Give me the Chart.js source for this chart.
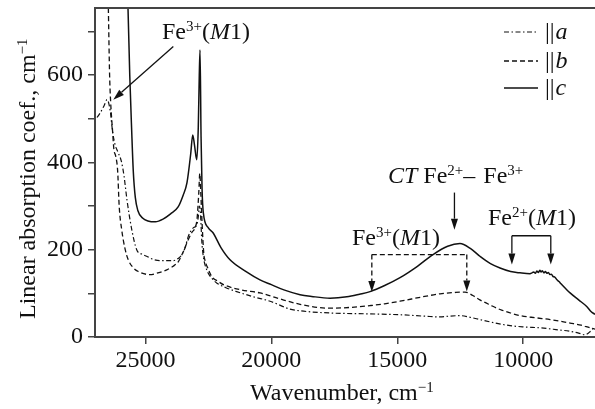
<!DOCTYPE html>
<html>
<head>
<meta charset="utf-8">
<script src="https://cdn.jsdelivr.net/npm/chart.js@4.4.1/dist/chart.umd.min.js"></script>
<style>
  html, body { margin: 0; padding: 0; background: #fff; }
  canvas { display: block; }
</style>
</head>
<body>
<canvas id="chart" width="595" height="409" style="width:595px;height:409px"></canvas>
<script>
// wavenumber (cm^-1) and absorption (cm^-1)
const wnA  = [26920,26800,26640,26520,26400,26300,26200,26100,25950,25850,25730,25540,25345,25150,24950,24700,24420,23890,23700,23560,23420,23300,23100,22960,22900,22850,22810,22760,22700,22565,22370,22170,21800,21375,20700,20050,19260,18860,17670,16080,14890,13700,13300,12900,12510,12100,11720,11100,10520,9930,9330,8700,8140,7800,7545,7350,7200];
const absA = [503,513,530,544,520,470,440,425,402,370,314,246,200,190,185,178,175,175,180,188,205,230,250,257,275,300,280,220,185,154,135,124,113,104,92,82,64,60,55,53,51,47,46,48,49,45,40,32,26,23,21,17,13,9,5,12,22];

const wnB  = [26520,26470,26420,26380,26300,26250,26180,26100,26040,25940,25800,25680,25500,25280,24820,24500,24150,23900,23690,23500,23300,23150,23030,22950,22880,22840,22800,22740,22680,22640,22500,22370,22100,21900,21200,20450,19700,18860,17670,16800,16080,15500,14890,14000,13300,12700,12310,12000,11720,11300,10920,10500,10130,9500,8930,8500,8140,7700,7350,7150];
const absB = [900,754,600,540,470,430,415,380,300,246,200,177,160,150,143,147,154,162,173,195,223,240,250,270,330,375,330,250,190,177,155,139,127,120,108,101,88,75,66,68,72,76,82,92,99,102,103,95,85,73,63,55,49,44,40,36,32,27,21,18];

const wnC  = [25720,25690,25620,25545,25480,25400,25300,25100,24900,24600,24300,24000,23700,23500,23350,23200,23120,23050,22960,22900,22860,22830,22790,22750,22700,22500,22315,22000,21640,21000,20450,20000,19500,18860,18400,17670,17000,16500,16080,15500,14890,14200,13580,13000,12510,12100,11720,11300,10920,10500,10130,9730,9650,9580,9520,9460,9400,9340,9290,9240,9180,9120,9060,9000,8940,8880,8820,8740,8660,8580,8500,8300,8140,7800,7480,7300,7150];
const absC = [800,754,600,475,380,320,290,272,266,264,270,282,298,325,353,420,463,440,406,480,600,658,460,340,285,250,239,205,177,150,131,120,108,97,93,89,92,98,104,118,136,162,189,208,214,203,185,168,158,150,147,145,147,149,146,151,148,153,149,152,147,150,146,148,143,144,139,137,131,127,122,110,101,85,70,58,52];

const xTicks = [25000, 20000, 15000, 10000];
const yTicks = [0, 200, 400, 600];

const SERIF = '"Liberation Serif", "Times New Roman", serif';
const INK = '#111';
const DASH_B = [5, 3];
const DASH_A = [5, 2.5, 1.5, 2.5];

function fnt(size, italic){ return (italic ? 'italic ' : '') + size + 'px ' + SERIF; }

// draws text made of parts: {t, sup, it, gap}
function rich(ctx, x, y, parts){
  ctx.textBaseline = 'alphabetic';
  ctx.textAlign = 'left';
  for (const p of parts){
    ctx.font = fnt(p.sup ? 15 : 24, p.it);
    ctx.fillText(p.t, x, p.sup ? y - 8 : y);
    x += ctx.measureText(p.t).width + (p.gap || 0);
  }
}

function arrow(ctx, x1, y1, x2, y2, dash){
  const a = Math.atan2(y2 - y1, x2 - x1), L = 11, W = 3.5;
  const bx = x2 - L * Math.cos(a), by = y2 - L * Math.sin(a);
  ctx.setLineDash(dash || []);
  ctx.beginPath(); ctx.moveTo(x1, y1); ctx.lineTo(bx, by); ctx.stroke();
  ctx.setLineDash([]);
  ctx.beginPath();
  ctx.moveTo(x2, y2);
  ctx.lineTo(bx + W * Math.sin(a), by - W * Math.cos(a));
  ctx.lineTo(bx - W * Math.sin(a), by + W * Math.cos(a));
  ctx.closePath(); ctx.fill();
}

const decor = {
  id: 'decor',
  afterDraw(chart){
    const ctx = chart.ctx, xs = chart.scales.x, ys = chart.scales.y, ca = chart.chartArea;
    const X = v => xs.getPixelForValue(v), Y = v => ys.getPixelForValue(v);
    ctx.save();
    ctx.strokeStyle = '#444'; ctx.fillStyle = INK;

    // top frame line
    ctx.lineWidth = 2;
    ctx.beginPath(); ctx.moveTo(ca.left - 1, ca.top); ctx.lineTo(ca.right, ca.top); ctx.stroke();

    // legend
    ctx.strokeStyle = INK;
    const rows = [[32, DASH_A, 1.2, 'a'], [61, DASH_B, 1.3, 'b'], [88, [], 1.5, 'c']];
    for (const [ly, dash, lw, lab] of rows){
      ctx.lineWidth = lw; ctx.setLineDash(dash);
      ctx.beginPath(); ctx.moveTo(504, ly); ctx.lineTo(538, ly); ctx.stroke();
      ctx.setLineDash([]);
      rich(ctx, 545, ly + 7, [{t: '||', gap: 1}, {t: lab, it: true}]);
    }

    ctx.lineWidth = 1.3;
    // Fe3+(M1) top-left arrow
    rich(ctx, 162, 39, [{t: 'Fe'}, {t: '3+', sup: true}, {t: '('}, {t: 'M', it: true}, {t: '1)'}]);
    arrow(ctx, X(23890), Y(666), X(26273), Y(544));

    // CT Fe2+ - Fe3+
    rich(ctx, 388, 183, [{t: 'C', it: true}, {t: 'T', it: true, gap: 6}, {t: 'Fe'}, {t: '2+', sup: true}, {t: '– ', gap: 2}, {t: 'Fe'}, {t: '3+', sup: true}]);
    arrow(ctx, X(12730), Y(331), X(12730), Y(246));

    // Fe3+(M1) dashed bracket
    rich(ctx, 352, 245, [{t: 'Fe'}, {t: '3+', sup: true}, {t: '('}, {t: 'M', it: true}, {t: '1)'}]);
    ctx.setLineDash(DASH_B);
    ctx.beginPath(); ctx.moveTo(X(16010), Y(189)); ctx.lineTo(X(12240), Y(189)); ctx.stroke();
    arrow(ctx, X(16010), Y(189), X(16010), Y(103), DASH_B);
    arrow(ctx, X(12240), Y(189), X(12240), Y(104), DASH_B);

    // Fe2+(M1) bracket
    rich(ctx, 488, 225, [{t: 'Fe'}, {t: '2+', sup: true}, {t: '('}, {t: 'M', it: true}, {t: '1)'}]);
    ctx.beginPath(); ctx.moveTo(X(10450), Y(232)); ctx.lineTo(X(8905), Y(232)); ctx.stroke();
    arrow(ctx, X(10450), Y(232), X(10450), Y(166));
    arrow(ctx, X(8905), Y(232), X(8905), Y(166));

    // axis titles
    rich(ctx, 250, 400, [{t: 'Wavenumber, cm'}, {t: '−1', sup: true}]);
    ctx.translate(35, 319);
    ctx.rotate(-Math.PI / 2);
    rich(ctx, 0, 0, [{t: 'Linear absorption coef., cm'}, {t: '−1', sup: true}]);
    ctx.restore();
  }
};

const pts = (xs, ys) => xs.map((x, i) => ({x, y: ys[i]}));

new Chart(document.getElementById('chart'), {
  type: 'line',
  data: {
    datasets: [
      {label: '||a', data: pts(wnA, absA), borderColor: INK, borderWidth: 1.2, borderDash: DASH_A},
      {label: '||b', data: pts(wnB, absB), borderColor: INK, borderWidth: 1.3, borderDash: DASH_B},
      {label: '||c', data: pts(wnC, absC), borderColor: INK, borderWidth: 1.5}
    ]
  },
  options: {
    responsive: false,
    animation: false,
    devicePixelRatio: 1,
    layout: {padding: {top: 8, right: 0, left: 0, bottom: 0}},
    elements: {
      point: {radius: 0},
      line: {cubicInterpolationMode: 'monotone', fill: false}
    },
    plugins: {legend: {display: false}, tooltip: {enabled: false}},
    scales: {
      x: {
        type: 'linear', reverse: true, min: 7150, max: 27000,
        afterFit: s => { s.height = 72; s.paddingLeft = 0; s.paddingRight = 0; },
        afterBuildTicks: s => { s.ticks = xTicks.map(v => ({value: v})); },
        border: {display: true, color: '#444', width: 2},
        grid: {display: true, drawOnChartArea: false, drawTicks: true, tickLength: 7, color: '#444', lineWidth: 1.5},
        ticks: {color: INK, font: {family: SERIF, size: 24}, padding: 2, maxRotation: 0,
          callback: v => String(v)}
      },
      y: {
        type: 'linear', min: 0, max: 754,
        afterFit: s => { s.width = 95; s.paddingTop = 0; s.paddingBottom = 0; },
        afterBuildTicks: s => { s.ticks = [0, 100, 200, 300, 400, 500, 600, 700].map(v => ({value: v})); },
        border: {display: true, color: '#444', width: 2},
        grid: {display: true, drawOnChartArea: false, drawTicks: true, tickLength: 7, color: '#444', lineWidth: 1.5},
        ticks: {color: INK, font: {family: SERIF, size: 24}, padding: 5,
          callback: v => yTicks.includes(v) ? String(v) : ''}
      }
    }
  },
  plugins: [decor]
});
</script>
</body>
</html>
